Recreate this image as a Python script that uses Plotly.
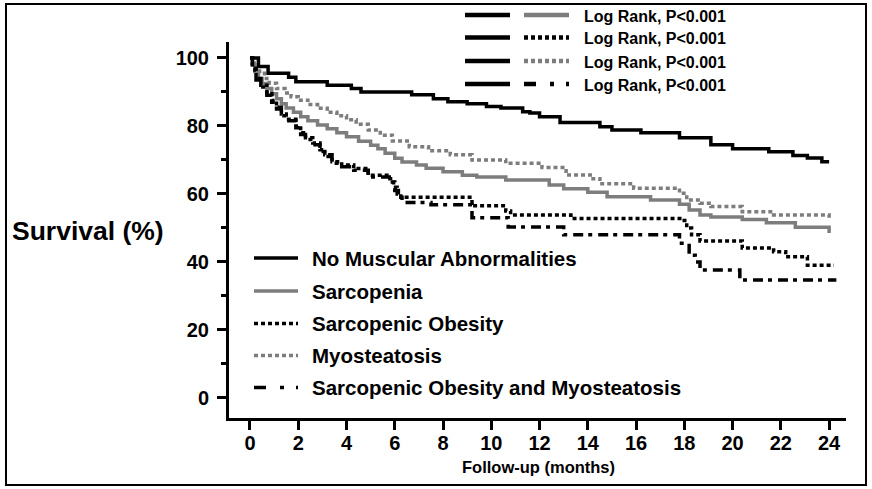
import plotly.graph_objects as go

# ---------------- data (step points: time in months, survival %) ----------------
nma_t = [0, 0.35, 0.75, 1.6, 1.9, 3.2, 4.2, 4.6, 6.7, 7.6, 8.2, 9.0, 9.8, 10.4, 11.3, 11.6, 12.0,
         12.85, 14.5, 15.0, 16.2, 17.8, 19.1, 20.0, 21.5, 22.5, 23.1, 23.7, 24.0]
nma_s = [100, 97.5, 95.5, 94.3, 93, 92, 91, 90, 89.2, 88, 87.1, 86.5, 85.7, 85.3, 84.2, 83.8, 82.7,
         81, 79.8, 78.8, 78, 76.5, 74.5, 73.3, 72.4, 71.3, 70.6, 69.5, 69.5]

sar_t = [0, 0.1, 0.2, 0.35, 0.5, 0.7, 0.9, 1.1, 1.3, 1.5, 1.8, 2.1, 2.4, 2.8, 3.2, 3.6, 4.0, 4.5,
         5.0, 5.3, 5.6, 6.0, 6.3, 6.9, 7.3, 8.0, 8.8, 9.4, 10.6, 12.4, 13.0, 14.0, 14.8, 16.6,
         17.8, 18.2, 18.65, 19.1, 20.4, 21.4, 22.6, 23.9, 24.0]
sar_s = [100, 98, 96, 94, 92.5, 91, 89.5, 88, 86.5, 85.3, 84, 82.7, 81.5, 80.3, 79.2, 78, 76.8, 75.5,
         74.3, 73.3, 72, 70.5, 69.4, 68.5, 67.6, 66.5, 65.5, 65, 64.1, 62.6, 61.5, 60.5, 59.2, 58.2,
         57, 55.3, 53.8, 53.2, 52.5, 51.5, 50.2, 50.2, 48.5]

so_t = [0, 0.1, 0.25, 0.45, 0.7, 0.9, 1.1, 1.3, 1.5, 1.9, 2.1, 2.3, 2.6, 2.9, 3.1, 3.4, 3.8, 4.3,
        4.9, 5.8, 5.95, 6.1, 6.25, 9.2, 10.6, 10.8, 13.3, 17.9, 18.1, 18.3, 18.65, 20.4, 21.7,
        22.2, 23.1, 24.2]
so_s = [100, 97, 94, 92, 89.5, 87.5, 85.5, 83.5, 82, 80, 78, 76.5, 75, 73, 71.5, 69.5, 68.5, 67.5,
        65.5, 64.5, 62, 60, 59, 56.5, 55, 53.8, 52.8, 52.2, 50, 48, 46.2, 44.1, 43, 41.5, 39, 39]

myo_t = [0, 0.1, 0.25, 0.4, 0.6, 0.8, 1.1, 1.45, 1.7, 2.0, 2.4, 2.8, 3.2, 3.6, 4.0, 4.4, 4.9, 5.4,
         5.9, 6.6, 7.4, 8.3, 9.2, 10.6, 12.1, 13.1, 14.1, 14.5, 15.9, 17.8, 18.1, 18.65, 19.1,
         20.4, 21.7, 23.9, 24.0]
myo_s = [100, 98.5, 97, 95.5, 94, 92.6, 91, 89.7, 88.6, 87.6, 86.3, 85.2, 84, 83, 81.8, 80.5, 78.8,
         77.3, 75.6, 73.9, 72.7, 71.5, 70, 69, 67.8, 65.6, 64.5, 63, 61.7, 60.2, 58.2, 57.3, 56.3,
         54.8, 53.8, 53.8, 52.6]

som_t = [0, 0.1, 0.25, 0.45, 0.7, 0.9, 1.1, 1.3, 1.5, 1.9, 2.1, 2.3, 2.6, 2.9, 3.1, 3.4, 3.8, 4.3,
         4.9, 5.9, 6.0, 6.15, 6.3, 7.5, 9.2, 10.7, 13.0, 17.8, 18.2, 18.45, 18.65, 20.3, 24.3]
som_s = [100, 96.5, 93.5, 91.5, 89, 87, 85, 83, 81.5, 79.5, 77.5, 76, 74.5, 72.5, 71, 69, 68, 67,
         65, 63.5, 61, 59, 57.5, 56.8, 53, 50.3, 48, 45.5, 42, 40, 37.6, 34.7, 34.7]

series_names = ["No Muscular Abnormalities", "Sarcopenia", "Sarcopenic Obesity",
                "Myosteatosis", "Sarcopenic Obesity and Myosteatosis"]
x_ticks = list(range(0, 25, 2))
y_ticks = list(range(0, 101, 20))
x_title = "Follow-up (months)"
y_title = "Survival (%)"
logrank_label = "Log Rank, P<0.001"

# ---------------- styles ----------------
BLACK = "#000000"
GRAY = "#7d7d7d"
FONT = "Liberation Sans, Arial, Helvetica, sans-serif"
DOT = "4px,3px"
DASHDOT = "10px,5px,4px,6px"
LEG_DASHDOT = "12px,14px,4px,12px"

styles = [
    dict(color=BLACK, width=3.5, dash="solid"),
    dict(color=GRAY, width=3.5, dash="solid"),
    dict(color=BLACK, width=3.5, dash=DOT),
    dict(color=GRAY, width=3.5, dash=DOT),
    dict(color=BLACK, width=3.5, dash=DASHDOT),
]
data = [(nma_t, nma_s), (sar_t, sar_s), (so_t, so_s), (myo_t, myo_s), (som_t, som_s)]

fig = go.Figure()
# draw order: grays first, blacks on top
for i in [1, 3, 0, 2, 4]:
    t, s = data[i]
    fig.add_trace(go.Scatter(x=t, y=s, mode="lines", name=series_names[i],
                             line=dict(shape="hv", **styles[i]), showlegend=False,
                             hoverinfo="x+y+name"))

# plot area in pixels: x 229..846, y 42..418
L, R, T, B = 229, 846, 42, 418
W, H = 872, 489
def px(x):
    return (x - L) / (R - L)
def py(y):
    return (B - y) / (B - T)

shapes = []
annotations = []

# outer frame
shapes.append(dict(type="rect", xref="paper", yref="paper",
                   x0=px(6), x1=px(866), y0=py(485), y1=py(4),
                   line=dict(color=BLACK, width=2), fillcolor="rgba(0,0,0,0)", layer="above"))

# main legend (manual)
leg_rows = [258, 291, 323.5, 355.5, 387.5]
leg_dash = ["solid", "solid", DOT, DOT, LEG_DASHDOT]
for i, yy in enumerate(leg_rows):
    shapes.append(dict(type="line", xref="paper", yref="paper",
                       x0=px(254), x1=px(298), y0=py(yy), y1=py(yy),
                       line=dict(color=styles[i]["color"], width=3.5, dash=leg_dash[i])))
    annotations.append(dict(text=series_names[i], xref="paper", yref="paper",
                            x=px(310), y=py(yy), xanchor="left", yanchor="middle",
                            showarrow=False,
                            font=dict(family=FONT, size=20.5, color=BLACK, weight="bold")))

# log-rank legend (manual)
lr_rows = [15, 37.5, 61, 84]
lr_second = [(GRAY, "solid"), (BLACK, DOT), (GRAY, DOT), (BLACK, LEG_DASHDOT)]
for (col, dsh), yy in zip(lr_second, lr_rows):
    shapes.append(dict(type="line", xref="paper", yref="paper",
                       x0=px(465), x1=px(510), y0=py(yy), y1=py(yy),
                       line=dict(color=BLACK, width=4.5)))
    shapes.append(dict(type="line", xref="paper", yref="paper",
                       x0=px(524), x1=px(569), y0=py(yy), y1=py(yy),
                       line=dict(color=col, width=4.5, dash=dsh)))
    annotations.append(dict(text=logrank_label, xref="paper", yref="paper",
                            x=px(582), y=py(yy + 1), xanchor="left", yanchor="middle",
                            showarrow=False,
                            font=dict(family=FONT, size=16, color=BLACK, weight="bold")))

# y title (horizontal)
annotations.append(dict(text=y_title, xref="paper", yref="paper",
                        x=px(88), y=py(231), xanchor="center", yanchor="middle",
                        showarrow=False,
                        font=dict(family=FONT, size=26.5, color=BLACK, weight="bold")))
# x title
annotations.append(dict(text=x_title, xref="paper", yref="paper",
                        x=px(538), y=py(467), xanchor="center", yanchor="middle",
                        showarrow=False,
                        font=dict(family=FONT, size=16.5, color=BLACK, weight="bold")))

fig.update_layout(
    width=W, height=H,
    margin=dict(l=L, r=W - R, t=T, b=H - B, pad=0),
    paper_bgcolor="white", plot_bgcolor="white",
    shapes=shapes, annotations=annotations,
    showlegend=False,
    xaxis=dict(range=[-0.87, 24.7], tickmode="array", tickvals=x_ticks,
               ticktext=[str(v) for v in x_ticks],
               showline=True, linecolor=BLACK, linewidth=3, mirror=False,
               ticks="outside", ticklen=9, tickwidth=2.5, tickcolor=BLACK,
               showgrid=False, zeroline=False, ticklabelstandoff=-4,
               tickfont=dict(family=FONT, size=20, color=BLACK, weight="bold")),
    yaxis=dict(range=[-5.9, 104.7], tickmode="array", tickvals=y_ticks,
               ticktext=[str(v) for v in y_ticks],
               showline=True, linecolor=BLACK, linewidth=3, mirror=False,
               ticks="outside", ticklen=9, tickwidth=2.5, tickcolor=BLACK,
               minor=dict(ticks="outside", ticklen=5, tickwidth=2.5, tickcolor=BLACK,
                          tickvals=[10, 30, 50, 70, 90]),
               showgrid=False, zeroline=False, ticklabelstandoff=4,
               tickfont=dict(family=FONT, size=20, color=BLACK, weight="bold")),
)

# remove the browser's default 8px body margin so the figure sits at the page origin
fig.write_html("out.html", config={"displayModeBar": False},
               post_script="document.body.style.margin='0px';document.body.style.padding='0px';")
